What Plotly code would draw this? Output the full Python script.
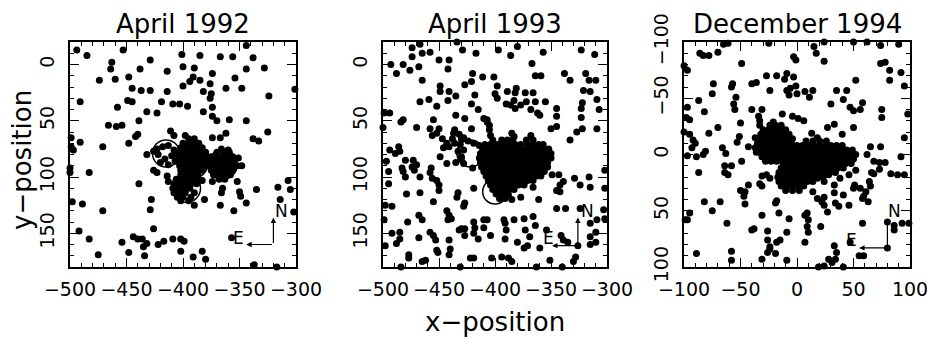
import plotly.graph_objects as go

# ---------------- data (x, y positions) ----------------
p92_field = [
    (-494,-13),(-485,-8),(-453,-13),(-401,-9),(-385,-8),(-367,-7),(-356,-7),(-338,-6),(-344,-17),(-328,3),
    (-344,4),(-354,12),(-348,21),(-362,21),(-374,8),(-376,17),(-385,14),(-390,3),(-391,11),(-394,15),
    (-400,2),(-400,19),(-414,6),(-414,24),(-429,-4),(-438,4),(-448,11),(-445,21),(-437,23),(-429,23),
    (-463,-2),(-464,4),(-460,13),(-474,14),(-491,33),(-449,32),(-445,33),(-458,38),(-432,42),(-423,43),
    (-419,33),(-409,35),(-403,35),(-396,37),(-382,24),(-375,26),(-376,30),(-374,38),(-382,42),(-374,46),
    (-370,50),(-359,49),(-344,50),(-324,28),(-301,22),(-325,60),(-338,66),(-333,68),(-362,61),(-367,65),
    (-374,65),(-439,50),(-466,54),(-459,55),(-454,54),(-440,62),(-442,64),(-448,70),(-471,73),(-491,69),
    (-499,65),(-499,73),(-497,76),(-500,92),(-500,96),(-483,96),(-432,80),(-426,94),(-423,96),(-439,106),
    (-414,99),(-413,104),(-411,59),(-408,63),(-398,63),(-498,122),(-489,124),(-471,130),(-492,148),(-483,155),
    (-475,169),(-454,158),(-448,167),(-444,153),(-440,155),(-436,155),(-435,162),(-432,159),(-434,170),(-422,160),
    (-417,157),(-409,155),(-402,155),(-399,157),(-402,166),(-391,171),(-383,166),(-380,173),(-426,146),(-428,120),
    (-429,129),(-367,125),(-390,125),(-366,114),(-365,110),(-355,130),(-357,154),(-350,113),(-349,117),(-344,123),
    (-335,111),(-316,109),(-307,103),(-305,111),(-314,120),(-302,131),(-317,180),(-337,178),(-348,90),(-360,76),
    (-366,75),(-351,83),(-383,103),(-381,120),(-352,104),(-374,104),(-373,98),
]
p92_core = [
    (-395,66),(-390,66),
    (-400,70),(-395,70),(-390,70),(-386,70),
    (-402,74),(-397,74),(-392,74),(-387,74),(-383,74),
    (-404,78),(-399,78),(-394,78),(-389,78),(-384,78),(-380,78),
    (-404,82),(-399,82),(-394,82),(-389,82),(-384,82),(-379,82),
    (-403,86),(-398,86),(-393,86),(-388,86),(-383,86),(-379,86),
    (-403,90),(-398,90),(-393,90),(-388,90),(-383,90),(-380,90),
    (-402,94),(-397,94),(-392,94),(-387,94),(-383,94),
    (-402,98),(-397,98),(-392,98),(-387,98),
    (-406,102),(-401,102),(-396,102),(-391,102),(-387,102),
    (-408,106),(-403,106),(-398,106),(-393,106),(-388,106),
    (-409,110),(-404,110),(-399,110),(-394,110),
    (-408,114),(-403,114),(-398,114),(-390,114),
    (-405,118),(-400,118),(-393,118),
    (-402,121),(-395,121),
    (-370,78),(-364,78),(-359,78),
    (-375,82),(-370,82),(-365,82),(-360,82),(-356,82),
    (-376,86),(-371,86),(-366,86),(-361,86),(-356,86),
    (-376,90),(-371,90),(-366,90),(-361,90),(-356,90),(-352,90),
    (-375,94),(-370,94),(-365,94),(-360,94),(-356,94),
    (-372,98),(-367,98),(-362,98),(-358,98),
    (-368,102),(-363,102),
    (-423,75),(-418,73),(-413,72),(-408,76),(-410,81),(-416,84),(-420,87),(-413,89),(-407,86),(-422,80),
    (-426,77),(-405,80),
]

p93_field = [
    (-474,-15),(-467,-18),(-458,-11),(-465,-10),(-474,-7),(-434,-20),(-429,-13),(-417,-10),(-397,-13),(-386,-8),
    (-380,-16),(-357,-11),(-323,-13),(-311,-9),(-493,0),(-482,0),(-476,5),(-468,2),(-450,-4),(-441,-4),
    (-442,4),(-420,8),(-421,15),(-411,11),(-401,11),(-367,-1),(-364,10),(-359,10),(-338,8),(-333,14),
    (-319,8),(-316,14),(-310,14),(-488,8),(-465,14),(-449,19),(-449,24),(-441,24),(-442,32),(-435,28),
    (-427,18),(-418,27),(-421,35),(-398,19),(-400,26),(-398,30),(-389,24),(-381,21),(-382,25),(-383,32),
    (-373,25),(-366,25),(-372,33),(-364,33),(-355,33),(-321,23),(-315,24),(-309,31),(-467,33),(-459,31),
    (-452,37),(-494,43),(-499,43),(-482,49),(-484,51),(-470,56),(-458,57),(-455,49),(-450,57),(-435,45),
    (-427,48),(-415,40),(-407,51),(-390,35),(-386,36),(-377,36),(-382,39),(-368,40),(-362,43),(-360,45),
    (-345,39),(-345,46),(-322,34),(-323,47),(-323,39),(-307,40),(-500,56),(-452,61),(-447,66),(-443,70),
    (-437,61),(-441,73),(-421,57),(-438,66),(-430,66),(-431,71),(-456,63),(-446,74),(-368,63),(-385,61),
    (-383,64),(-350,57),(-345,55),(-333,67),(-327,60),(-322,57),(-309,57),(-494,76),(-486,73),(-485,77),
    (-489,79),(-480,85),(-473,85),(-470,89),(-474,91),(-472,94),(-449,82),(-443,88),(-435,87),(-497,86),
    (-495,95),(-483,92),(-482,95),(-457,92),(-458,96),(-480,100),(-467,100),(-456,101),(-452,103),(-450,107),
    (-450,112),(-479,115),(-495,106),(-467,114),(-433,114),(-434,118),(-419,110),(-349,98),(-343,98),(-339,104),
    (-342,107),(-345,112),(-342,113),(-329,101),(-324,107),(-316,100),(-315,109),(-302,94),(-302,110),(-374,105),
    (-366,109),(-498,125),(-492,126),(-455,122),(-443,130),(-441,134),(-439,137),(-427,123),(-428,126),(-388,116),
    (-385,120),(-377,118),(-361,120),(-345,128),(-337,128),(-324,128),(-303,129),(-499,138),(-478,140),(-468,134),
    (-465,138),(-458,149),(-455,152),(-453,156),(-442,138),(-430,146),(-427,146),(-419,140),(-418,145),(-410,138),
    (-407,138),(-410,145),(-392,138),(-391,141),(-383,138),(-374,137),(-366,135),(-364,143),(-373,147),(-390,147),
    (-404,152),(-415,155),(-419,150),(-427,152),(-432,147),(-441,156),(-485,149),(-492,150),(-485,155),(-468,154),
    (-452,165),(-391,155),(-380,158),(-369,153),(-354,147),(-341,152),(-339,156),(-335,158),(-315,141),(-309,138),
    (-302,137),(-310,149),(-315,153),(-498,161),(-488,159),(-477,169),(-477,172),(-465,175),(-462,174),(-451,167),
    (-440,164),(-441,169),(-422,172),(-419,172),(-403,172),(-394,171),(-388,172),(-385,175),(-374,163),(-371,161),
    (-360,163),(-351,174),(-340,180),(-330,175),(-328,171),(-315,160),(-310,158),(-484,180),(-431,180),(-363,180),
    (-326,161),
    (-436,58),(-432,62),(-428,65),(-424,68),(-419,70),(-414,72),(-436,70),(-433,77),(-430,84),
    (-407,49),(-405,54),(-405,58),(-404,63),(-402,67),(-410,48),(-428,76),(-430,82),(-428,88),(-420,92),
]
p93_core = [
    (-394,67),(-389,67),(-384,67),(-372,67),(-366,67),
    (-409,71),(-404,71),(-398,71),(-393,71),(-387,71),(-382,71),(-377,71),(-371,71),(-366,71),(-361,71),(-357,71),
    (-411,75),(-406,75),(-401,75),(-396,75),(-391,75),(-386,75),(-381,75),(-376,75),(-371,75),(-366,75),(-361,75),(-356,75),(-352,75),
    (-413,79),(-408,79),(-403,79),(-398,79),(-393,79),(-388,79),(-383,79),(-378,79),(-373,79),(-368,79),(-363,79),(-358,79),(-353,79),(-350,79),
    (-414,83),(-409,83),(-404,83),(-399,83),(-394,83),(-389,83),(-384,83),(-379,83),(-374,83),(-369,83),(-364,83),(-359,83),(-354,83),(-350,83),
    (-413,87),(-408,87),(-403,87),(-398,87),(-393,87),(-388,87),(-383,87),(-378,87),(-373,87),(-368,87),(-363,87),(-358,87),(-353,87),
    (-412,91),(-407,91),(-402,91),(-397,91),(-392,91),(-387,91),(-382,91),(-377,91),(-372,91),(-367,91),(-362,91),(-357,91),(-353,91),
    (-410,95),(-405,95),(-400,95),(-395,95),(-390,95),(-385,95),(-380,95),(-375,95),(-370,95),(-365,95),(-360,95),(-356,95),
    (-408,99),(-403,99),(-398,99),(-393,99),(-388,99),(-383,99),(-378,99),(-373,99),(-368,99),(-363,99),(-359,99),
    (-406,103),(-401,103),(-396,103),(-391,103),(-386,103),(-381,103),(-376,103),(-371,103),(-366,103),
    (-404,107),(-399,107),(-394,107),(-389,107),(-384,107),(-379,107),(-374,107),
    (-402,111),(-397,111),(-392,111),(-387,111),(-383,111),
    (-399,115),(-394,115),(-389,115),
    (-396,119),(-391,119),
]

p94_field = [
    (-86,-90),(-83,-88),(-78,-88),(-70,-91),(-65,-98),(-61,-99),(-49,-81),(-25,-99),(-3,-87),(-1,-84),
    (15,-96),(17,-90),(24,-83),(24,-100),(50,-100),(62,-100),(74,-97),(78,-82),(82,-75),(92,-73),
    (90,-98),(-100,-79),(-97,-75),(-27,-70),(-18,-70),(-9,-72),(-11,-67),(-3,-69),(-1,-61),(-6,-59),
    (0,-54),(-9,-57),(-7,-53),(7,-56),(14,-57),(11,-51),(-24,-57),(35,-57),(44,-57),(41,-49),
    (47,-42),(52,-66),(58,-46),(50,-39),(56,-40),(-40,-63),(-36,-64),(-57,-63),(-58,-60),(-74,-63),
    (-75,-54),(-54,-51),(-87,-48),(-97,-42),(-98,-33),(-95,-31),(-82,-38),(-56,-45),(-55,-40),(-50,-28),
    (-40,-40),(-31,-40),(-34,-34),(-33,-30),(-33,-26),(-21,-29),(-13,-36),(-4,-34),(1,-32),(6,-30),
    (-15,-25),(30,-45),(33,-27),(50,-24),(75,-40),(75,-33),(95,-61),(98,-36),(95,-15),(92,2),
    (89,18),(95,18),(-100,-20),(-95,-18),(-92,-13),(-90,-10),(-93,-6),(-97,1),(-89,2),(-78,-19),
    (-70,-24),(-51,-16),(-53,-11),(-43,-7),(-37,-6),(-37,-15),(-81,-3),(-83,0),(-66,-6),(-63,-1),
    (-64,10),(-58,10),(-64,16),(-61,18),(-49,6),(-36,-2),(-87,16),(74,-7),(65,-7),(62,0),
    (68,6),(73,7),(73,13),(78,7),(83,17),(66,16),(68,17),(64,24),(65,28),(61,33),
    (59,37),(51,27),(52,14),(46,18),(38,21),(33,27),(24,24),(28,18),(18,21),(14,33),
    (18,39),(22,42),(24,38),(33,34),(41,36),(34,43),(37,46),(46,45),(50,30),(56,30),
    (58,39),(63,42),(27,51),(24,45),(9,52),(7,54),(10,58),(9,64),(10,69),(7,78),
    (21,64),(33,81),(35,87),(34,93),(28,93),(19,100),(24,99),(31,96),(41,100),(47,78),
    (55,90),(58,61),(80,60),(86,63),(86,67),(93,61),(99,61),(80,83),(59,90),(-9,69),
    (-7,57),(-16,52),(-19,43),(-18,41),(-31,54),(-40,67),(-38,66),(-26,68),(-15,76),(-26,76),
    (-24,82),(-24,84),(-26,87),(-31,93),(-18,78),(-19,88),(-58,86),(-58,94),(-89,88),(-97,58),
    (-95,52),(-82,42),(-75,50),(-68,42),(-62,61),(-47,37),(-46,44),(-46,33),(-50,32),(-33,26),
    (-31,28),(-24,21),(-27,18),(-31,19),(-43,27),(-99,58),(-9,94),(74,-81),(82,-66),(13,-19),
    (18,-15),(27,-24),(40,-18),
]
p94_core = [
    (-24,-26),(-19,-26),(-14,-26),
    (-30,-22),(-25,-22),(-20,-22),(-15,-22),(-10,-22),
    (-32,-18),(-27,-18),(-22,-18),(-17,-18),(-12,-18),(-7,-18),
    (-34,-14),(-29,-14),(-24,-14),(-19,-14),(-14,-14),(-9,-14),(-4,-14),
    (-35,-10),(-30,-10),(-25,-10),(-20,-10),(-15,-10),(-10,-10),(-5,-10),
    (-34,-6),(-29,-6),(-24,-6),(-19,-6),(-14,-6),(-9,-6),(-4,-6),
    (-33,-2),(-28,-2),(-23,-2),(-18,-2),(-13,-2),(-8,-2),
    (-31,2),(-26,2),(-21,2),(-16,2),(-11,2),
    (-28,6),(-23,6),(-18,6),(-13,6),
    (8,-12),(14,-12),(20,-12),(26,-12),
    (0,-8),(5,-8),(10,-8),(15,-8),(20,-8),(25,-8),(30,-8),(35,-8),(40,-8),
    (-6,-4),(-1,-4),(4,-4),(9,-4),(14,-4),(19,-4),(24,-4),(29,-4),(34,-4),(39,-4),(44,-4),(49,-4),
    (-8,0),(-3,0),(2,0),(7,0),(12,0),(17,0),(22,0),(27,0),(32,0),(37,0),(42,0),(47,0),(52,0),
    (-10,4),(-5,4),(0,4),(5,4),(10,4),(15,4),(20,4),(25,4),(30,4),(35,4),(40,4),(45,4),(50,4),
    (-12,8),(-7,8),(-2,8),(3,8),(8,8),(13,8),(18,8),(23,8),(28,8),(33,8),(38,8),(43,8),(48,8),
    (-14,12),(-9,12),(-4,12),(1,12),(6,12),(11,12),(16,12),(21,12),(26,12),(31,12),(36,12),(41,12),
    (-16,16),(-11,16),(-6,16),(-1,16),(4,16),(9,16),(14,16),(19,16),(24,16),(29,16),(34,16),
    (-17,20),(-12,20),(-7,20),(-2,20),(3,20),(8,20),(13,20),(18,20),(23,20),
    (-16,24),(-11,24),(-6,24),(-1,24),(4,24),(9,24),(14,24),
    (-14,28),(-9,28),(-4,28),(1,28),(6,28),
    (-10,32),(-4,32),(2,32),
]

titles = ["April 1992", "April 1993", "December 1994"]
x_ranges = [(-500, -300), (-500, -300), (-100, 100)]
y_ranges = [(180, -20), (180, -20), (100, -100)]
x_ticks = [[-500, -450, -400, -350, -300], [-500, -450, -400, -350, -300], [-100, -50, 0, 50, 100]]
y_ticks = [[0, 50, 100, 150], [0, 50, 100, 150], [-100, -50, 0, 50, 100]]

# aperture circles (x centre, y centre, radius) in data units
circles = [
    [(-415, 79, 12), (-391, 88, 13), (-365, 89, 13), (-397, 110, 12.5)],
    [(-422, 79, 12), (-400, 113, 11)],
    [],
]
# compass: corner, north tip, east tip, N label, E label (data units)
compass = [
    dict(c=(-320, 160), n=(-320, 136), e=(-344, 160), nl=(-313, 130), el=(-351, 154)),
    dict(c=(-326, 161), n=(-326, 136), e=(-349, 161), nl=(-317, 130), el=(-352, 154)),
    dict(c=(80, 83), n=(80, 57), e=(55, 83), nl=(86, 50), el=(48, 76)),
]

panels = [p92_field + p92_core, p93_field + p93_core, p94_field + p94_core]

# ---------------- figure ----------------
W, H = 927, 338
x_dom_px = [(70, 296), (383, 607), (684, 910)]
y_dom_px = (42, 267)
FONT = "DejaVu Sans"

fig = go.Figure()
layout = dict(
    width=W, height=H, margin=dict(l=0, r=0, t=0, b=0, autoexpand=False),
    paper_bgcolor="white", plot_bgcolor="white", showlegend=False,
    font=dict(family=FONT, color="black"),
)
ydom = [1 - y_dom_px[1] / H, 1 - y_dom_px[0] / H]
annotations = []
shapes = []
for i in range(3):
    sx = "" if i == 0 else str(i + 1)
    xa, ya = "x" + sx, "y" + sx
    pts = panels[i]
    fig.add_trace(go.Scatter(
        x=[p[0] for p in pts], y=[p[1] for p in pts], mode="markers",
        marker=dict(size=7, color="black", line=dict(width=0)),
        xaxis=xa, yaxis=ya, cliponaxis=False, hoverinfo="skip"))
    common = dict(
        showline=True, linewidth=2, linecolor="black", mirror="ticks",
        ticks="inside", ticklen=9, tickwidth=1, tickcolor="black",
        showgrid=False, zeroline=False, automargin=False, ticklabeloverflow="allow",
        minor=dict(dtick=10, ticks="inside", ticklen=4, tickwidth=1, tickcolor="black", showgrid=False),
        tickfont=dict(family=FONT, size=19, color="black"),
    )
    layout["xaxis" + sx] = dict(
        common, domain=[x_dom_px[i][0] / W, x_dom_px[i][1] / W], range=list(x_ranges[i]),
        anchor=ya, tickmode="array", tickvals=x_ticks[i], tickangle=0, ticklabelstandoff=4)
    layout["yaxis" + sx] = dict(
        common, domain=ydom, range=list(y_ranges[i]), anchor=xa,
        tickmode="array", tickvals=y_ticks[i], tickangle=-90, ticklabelstandoff=6)
    # title
    annotations.append(dict(
        text=titles[i], xref="paper", yref="paper",
        x=(x_dom_px[i][0] + x_dom_px[i][1]) / 2 / W, y=1 - 24 / H,
        xanchor="center", yanchor="middle", showarrow=False,
        font=dict(family=FONT, size=26, color="black")))
    # circles
    for (cx, cy, r) in circles[i]:
        shapes.append(dict(type="circle", xref=xa, yref=ya, x0=cx - r, x1=cx + r,
                           y0=cy - r, y1=cy + r, line=dict(color="black", width=1.5)))
    # compass arrows
    cp = compass[i]
    for tip in (cp["n"], cp["e"]):
        annotations.append(dict(
            x=tip[0], y=tip[1], ax=cp["c"][0], ay=cp["c"][1], xref=xa, yref=ya,
            axref=xa, ayref=ya, showarrow=True, arrowhead=2, arrowsize=0.9,
            arrowwidth=1.2, arrowcolor="black", text=""))
    annotations.append(dict(text="N", x=cp["nl"][0], y=cp["nl"][1], xref=xa, yref=ya,
                            showarrow=False, font=dict(family=FONT, size=17, color="black")))
    annotations.append(dict(text="E", x=cp["el"][0], y=cp["el"][1], xref=xa, yref=ya,
                            showarrow=False, font=dict(family=FONT, size=17, color="black")))

annotations.append(dict(text="x−position", xref="paper", yref="paper", x=495 / W, y=1 - 322 / H,
                        xanchor="center", yanchor="middle", showarrow=False,
                        font=dict(family=FONT, size=26, color="black")))
annotations.append(dict(text="y−position", xref="paper", yref="paper", x=22 / W, y=1 - 160 / H,
                        xanchor="center", yanchor="middle", showarrow=False, textangle=-90,
                        font=dict(family=FONT, size=26, color="black")))
layout["annotations"] = annotations
layout["shapes"] = shapes
fig.update_layout(**layout)
fig.write_html("out.html")
